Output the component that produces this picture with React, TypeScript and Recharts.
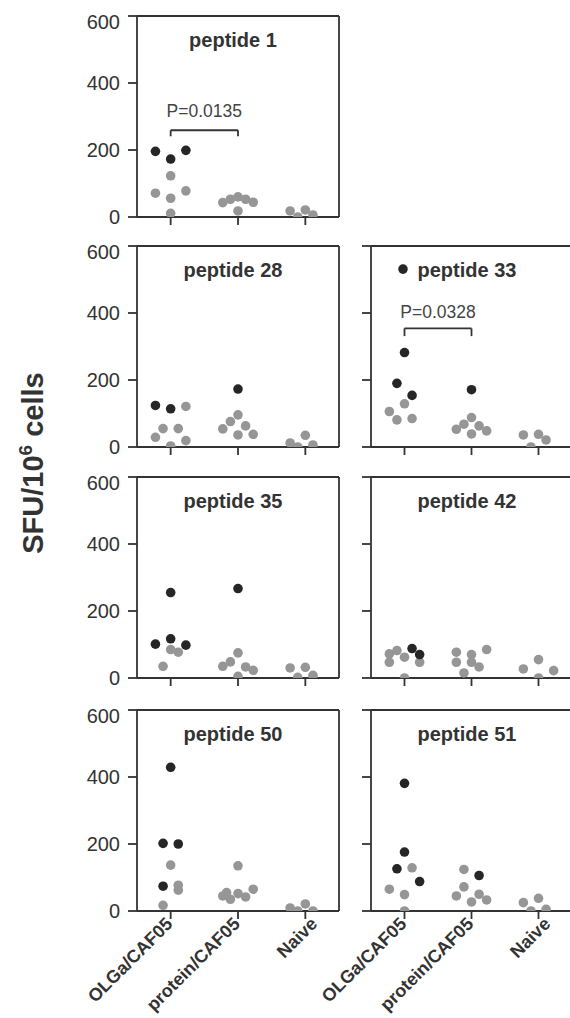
import React from 'react';
import { ScatterChart, Scatter, XAxis, YAxis, ReferenceLine } from 'recharts';

// ---------- data ----------
const groupLabels = ['OLGa/CAF05', 'protein/CAF05', 'Naive'];
const yTicks = [0, 200, 400, 600];

// each point: [group (1..3), jitter step, SFU/10^6 cells]
const pep1Dark = [[1, -2, 196], [1, 0, 173], [1, 2, 199]];
const pep1Gray = [
  [1, 0, 123], [1, -2, 71], [1, 0, 56], [1, 2, 78], [1, 0, 11],
  [2, -2, 43], [2, -1, 53], [2, 0, 60], [2, 1, 53], [2, 2, 44], [2, 0, 18],
  [3, -2, 18], [3, -1, 0], [3, 0, 21], [3, 1, 6],
];

const pep28Dark = [[1, -2, 124], [1, 0, 114], [2, 0, 173]];
const pep28Gray = [
  [1, 2, 121], [1, -1, 55], [1, 1, 55], [1, -2, 29], [1, 2, 19], [1, 0, 3],
  [2, 0, 96], [2, -1, 76], [2, 1, 63], [2, -2, 54], [2, 0, 36], [2, 2, 38],
  [3, -2, 12], [3, -1, 0], [3, 0, 35], [3, 1, 6],
];

const pep33Dark = [[1, -0.2, 531], [1, 0, 282], [1, -1, 190], [1, 1, 154], [2, 0, 171]];
const pep33Gray = [
  [1, 0, 129], [1, -2, 106], [1, -1, 81], [1, 1, 85],
  [2, 0, 88], [2, -1, 68], [2, 1, 63], [2, -2, 53], [2, 2, 48], [2, 0, 39],
  [3, -2, 36], [3, 0, 38], [3, 1, 21], [3, -1, 0],
];

const pep35Dark = [[1, 0, 255], [1, 0, 117], [1, -2, 101], [1, 2, 98], [2, 0, 267]];
const pep35Gray = [
  [1, 0, 85], [1, 1, 77], [1, -1, 35],
  [2, 0, 75], [2, -1, 48], [2, -2, 35], [2, 1, 33], [2, 2, 23], [2, 0, 5],
  [3, -2, 30], [3, -1, 2], [3, 0, 32], [3, 1, 8],
];

const pep42Dark = [[1, 1, 88], [1, 2, 70]];
const pep42Gray = [
  [1, -1, 82], [1, -2, 72], [1, 0, 62], [1, -2, 47], [1, 2, 47], [1, 0, 0],
  [2, 2, 85], [2, -2, 77], [2, 0, 70], [2, -2, 47], [2, 0, 47], [2, 1, 33], [2, -1, 15],
  [3, 0, 55], [3, -2, 27], [3, 2, 22], [3, 0, 0],
];

const pep50Dark = [[1, 0, 429], [1, -1, 202], [1, 1, 200], [1, -1, 74]];
const pep50Gray = [
  [1, 0, 137], [1, 1, 77], [1, 1, 62], [1, -1, 17],
  [2, 0, 135], [2, 2, 65], [2, -2, 45], [2, -1.5, 55], [2, -1, 35], [2, 0, 52], [2, 1, 42],
  [3, -2, 9], [3, -1, 0], [3, 0, 21], [3, 1, 0],
];

const pep51Dark = [[1, 0, 381], [1, 0, 176], [1, -1, 126], [1, 2, 88], [2, 1, 106]];
const pep51Gray = [
  [1, 1, 129], [1, -2, 65], [1, 0, 49], [1, 0, 0],
  [2, -1, 124], [2, -1, 72], [2, -2, 45], [2, 1, 50], [2, 0, 27], [2, 2, 33],
  [3, 0, 38], [3, -2, 25], [3, -1, 0], [3, 1, 5],
];

// significance brackets: [from group, to group, bracket top, bracket foot, text y, text]
const pep1Bracket = [1, 2, 259, 241, 300, 'P=0.0135'];
const pep33Bracket = [1, 2, 354, 331, 386, 'P=0.0328'];

// ---------- styling / layout ----------
const FONT = '"Liberation Sans", Arial, Helvetica, sans-serif';
const AXIS = '#333333';
const DARK = '#262626';
const GRAY = '#969696';
const JITTER = 0.113;
const Y_AXIS_W = 60;
const MARGIN_TOP = 6;
const PLOT_H = 201;
const COL_AXIS_X = [137, 371];
const COL_PLOT_W = [202, 201];
const ROW_TOP = [16, 246, 477, 710];

const toPoints = (arr: any[]) => arr.map(([g, j, v]) => ({ x: g + j * JITTER, y: v }));

const dotShape = (color: string) => (props: any) => (
  <circle cx={props.cx} cy={props.cy} r={4.8} fill={color} />
);

const textShape = (props: any) => (
  <text
    x={props.cx}
    y={props.cy}
    textAnchor="middle"
    fontSize={17.5}
    fontFamily={FONT}
    fill="#444"
  >
    {props.payload.label}
  </text>
);

const EmptyTick = () => <g />;

const XLabelTick = (props: any) => {
  const { x, y, payload } = props;
  const label = groupLabels[payload.value - 1];
  const dx = label === 'Naive' ? 13 : 3;
  const ax = x + dx;
  const ay = y + 4;
  return (
    <text
      x={ax}
      y={ay}
      transform={`rotate(-45, ${ax}, ${ay})`}
      textAnchor="end"
      fontSize={18}
      fontWeight="bold"
      fontFamily={FONT}
      fill="#333"
    >
      {label}
    </text>
  );
};

type PanelProps = {
  col: number;
  row: number;
  dark: any[];
  gray: any[];
  bracket?: any[];
  showY: boolean;
  showX: boolean;
};

function Panel({ col, row, dark, gray, bracket, showY, showX }: PanelProps) {
  const xAxisH = showX ? 120 : 20;
  const plotW = COL_PLOT_W[col];
  const width = Y_AXIS_W + plotW + 6;
  const height = MARGIN_TOP + PLOT_H + xAxisH;
  const left = COL_AXIS_X[col] - Y_AXIS_W;
  const top = ROW_TOP[row] - MARGIN_TOP;
  const textData = bracket
    ? [{ x: (bracket[0] + bracket[1]) / 2, y: bracket[4], label: bracket[5] }]
    : [];
  return (
    <div style={{ position: 'absolute', left, top, width, height }}>
      <ScatterChart
        width={width}
        height={height}
        margin={{ top: MARGIN_TOP, right: 6, left: 0, bottom: 0 }}
      >
        <XAxis
          type="number"
          dataKey="x"
          domain={[0.5, 3.5]}
          ticks={[1, 2, 3]}
          allowDataOverflow
          height={xAxisH}
          tickSize={8}
          axisLine={{ stroke: AXIS, strokeWidth: 1.8 }}
          tickLine={{ stroke: AXIS, strokeWidth: 1.8 }}
          tick={showX ? <XLabelTick /> : <EmptyTick />}
        />
        <YAxis
          type="number"
          dataKey="y"
          domain={[0, 600]}
          ticks={yTicks}
          allowDataOverflow
          width={Y_AXIS_W}
          tickSize={9}
          tickMargin={8}
          axisLine={{ stroke: AXIS, strokeWidth: 1.8 }}
          tickLine={{ stroke: AXIS, strokeWidth: 1.8 }}
          tick={showY ? { fontSize: 20, fill: '#333', fontFamily: FONT } : <EmptyTick />}
        />
        <ReferenceLine y={600} stroke={AXIS} strokeWidth={1.8} ifOverflow="visible" />
        <ReferenceLine x={3.5} stroke={AXIS} strokeWidth={1.8} ifOverflow="visible" />
        {bracket && (
          <ReferenceLine
            segment={[{ x: bracket[0], y: bracket[2] }, { x: bracket[1], y: bracket[2] }]}
            stroke={AXIS}
            strokeWidth={1.8}
            ifOverflow="visible"
          />
        )}
        {bracket && (
          <ReferenceLine
            segment={[{ x: bracket[0], y: bracket[3] }, { x: bracket[0], y: bracket[2] }]}
            stroke={AXIS}
            strokeWidth={1.8}
            ifOverflow="visible"
          />
        )}
        {bracket && (
          <ReferenceLine
            segment={[{ x: bracket[1], y: bracket[3] }, { x: bracket[1], y: bracket[2] }]}
            stroke={AXIS}
            strokeWidth={1.8}
            ifOverflow="visible"
          />
        )}
        <Scatter data={toPoints(gray)} shape={dotShape(GRAY)} isAnimationActive={false} />
        <Scatter data={toPoints(dark)} shape={dotShape(DARK)} isAnimationActive={false} />
        {bracket && <Scatter data={textData} shape={textShape} isAnimationActive={false} />}
      </ScatterChart>
    </div>
  );
}

const titles = [
  { col: 0, row: 0, text: 'peptide 1' },
  { col: 0, row: 1, text: 'peptide 28' },
  { col: 1, row: 1, text: 'peptide 33' },
  { col: 0, row: 2, text: 'peptide 35' },
  { col: 1, row: 2, text: 'peptide 42' },
  { col: 0, row: 3, text: 'peptide 50' },
  { col: 1, row: 3, text: 'peptide 51' },
];

export default function App() {
  return (
    <div
      style={{
        position: 'absolute',
        left: 0,
        top: 0,
        width: 570,
        height: 1018,
        overflow: 'hidden',
        background: '#fff',
      }}
    >
      <Panel col={0} row={0} dark={pep1Dark} gray={pep1Gray} bracket={pep1Bracket} showY showX={false} />
      <Panel col={0} row={1} dark={pep28Dark} gray={pep28Gray} showY showX={false} />
      <Panel col={1} row={1} dark={pep33Dark} gray={pep33Gray} bracket={pep33Bracket} showY={false} showX={false} />
      <Panel col={0} row={2} dark={pep35Dark} gray={pep35Gray} showY showX={false} />
      <Panel col={1} row={2} dark={pep42Dark} gray={pep42Gray} showY={false} showX={false} />
      <Panel col={0} row={3} dark={pep50Dark} gray={pep50Gray} showY showX />
      <Panel col={1} row={3} dark={pep51Dark} gray={pep51Gray} showY={false} showX />
      <svg
        width={570}
        height={1018}
        style={{ position: 'absolute', left: 0, top: 0, pointerEvents: 'none' }}
      >
        {titles.map((t) => (
          <text
            key={t.text}
            x={COL_AXIS_X[t.col] + 96}
            y={ROW_TOP[t.row] + 31}
            textAnchor="middle"
            fontSize={20}
            fontWeight="bold"
            fontFamily={FONT}
            fill="#333"
          >
            {t.text}
          </text>
        ))}
        <text
          x={43}
          y={463}
          transform="rotate(-90, 43, 463)"
          textAnchor="middle"
          fontSize={29}
          fontWeight="bold"
          fontFamily={FONT}
          fill="#333"
        >
          SFU/10
          <tspan dy={-11} fontSize={19}>6</tspan>
          <tspan dy={11}> cells</tspan>
        </text>
      </svg>
    </div>
  );
}
